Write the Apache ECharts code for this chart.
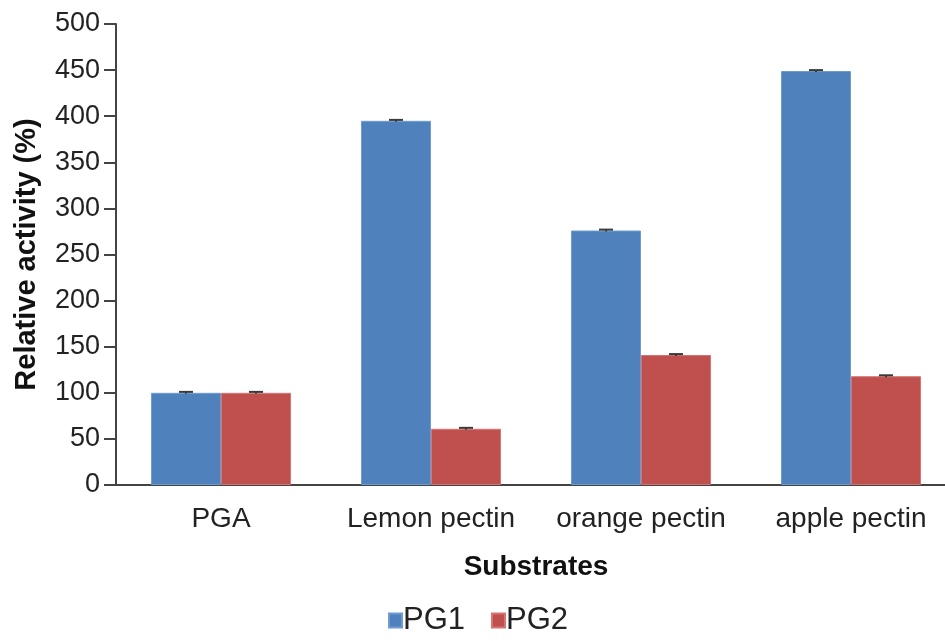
<!DOCTYPE html>
<html>
<head>
<meta charset="utf-8">
<script src="https://cdn.jsdelivr.net/npm/echarts@6/dist/echarts.min.js"></script>
<style>html,body{margin:0;padding:0;background:#fff;overflow:hidden;width:945px;height:641px}#c{width:956px;height:641px}</style>
</head>
<body>
<div id="c"></div>
<script>
var categories = ['PGA', 'Lemon pectin', 'orange pectin', 'apple pectin'];
var seriesNames = ['PG1', 'PG2'];
var pg1 = [100, 395, 276, 449];
var pg2 = [100, 61, 141, 118];
var pg1Err = [1, 1, 1, 1];
var pg2Err = [1, 1, 1, 1];
var yTicks = {min: 0, max: 500, interval: 50};

var FONT = '"Liberation Sans", Arial, sans-serif';
var colors = ['#4F81BD', '#C0504D'];

function errSeries(vals, errs, side) {
  var data = vals.map(function (v, i) { return [i, v, errs[i]]; });
  return {
    type: 'custom',
    silent: true,
    z: 10,
    data: data,
    encode: {x: 0, y: 1},
    renderItem: function (params, api) {
      var i = api.value(0), v = api.value(1), e = api.value(2);
      var band = api.size([1, 0])[0];
      var off = side * band / 6;
      var top = api.coord([i, v + e]);
      var bot = api.coord([i, v - e]);
      var x = top[0] + off;
      var half = 7;
      var st = {stroke: '#3a3a3a', lineWidth: 2};
      return {
        type: 'group',
        children: [
          {type: 'line', shape: {x1: x, y1: top[1], x2: x, y2: bot[1]}, style: st},
          {type: 'line', shape: {x1: x - half, y1: top[1], x2: x + half, y2: top[1]}, style: st}
        ]
      };
    }
  };
}

var chart = echarts.init(document.getElementById('c'), null, {renderer: 'canvas'});
chart.setOption({
  animation: false,
  color: colors,
  textStyle: {fontFamily: FONT},
  grid: {left: 116, top: 24, right: 0, bottom: 156, containLabel: false},
  legend: {
    data: seriesNames,
    bottom: 0,
    left: 383,
    itemWidth: 13,
    itemHeight: 14,
    itemGap: 26,
    icon: 'rect',
    textStyle: {fontFamily: FONT, fontSize: 31, color: '#222', padding: [0, 0, 0, -4]}
  },
  xAxis: {
    type: 'category',
    data: categories,
    name: 'Substrates',
    nameLocation: 'middle',
    nameGap: 68,
    nameTextStyle: {fontFamily: FONT, fontSize: 28, fontWeight: 'bold', color: '#111'},
    axisLine: {lineStyle: {color: '#444', width: 2}},
    axisTick: {show: false},
    axisLabel: {interval: 0, fontFamily: FONT, fontSize: 28, color: '#222', margin: 20}
  },
  yAxis: {
    type: 'value',
    min: yTicks.min,
    max: yTicks.max,
    interval: yTicks.interval,
    name: 'Relative activity (%)',
    nameLocation: 'middle',
    nameGap: 75,
    nameRotate: 90,
    nameTextStyle: {fontFamily: FONT, fontSize: 29, fontWeight: 'bold', color: '#111'},
    axisLine: {show: true, lineStyle: {color: '#444', width: 2}},
    axisTick: {show: true, length: 12, lineStyle: {color: '#444', width: 2}},
    splitLine: {show: false},
    axisLabel: {fontFamily: FONT, fontSize: 27, color: '#222', margin: 16}
  },
  series: [
    {name: seriesNames[0], type: 'bar', data: pg1, barGap: '0%', barCategoryGap: '33.3%',
     itemStyle: {color: colors[0], borderColor: '#6f9bd0', borderWidth: 1}},
    {name: seriesNames[1], type: 'bar', data: pg2, barGap: '0%', barCategoryGap: '33.3%',
     itemStyle: {color: colors[1], borderColor: '#d57573', borderWidth: 1}},
    errSeries(pg1, pg1Err, -1),
    errSeries(pg2, pg2Err, 1)
  ]
});
</script>
</body>
</html>
